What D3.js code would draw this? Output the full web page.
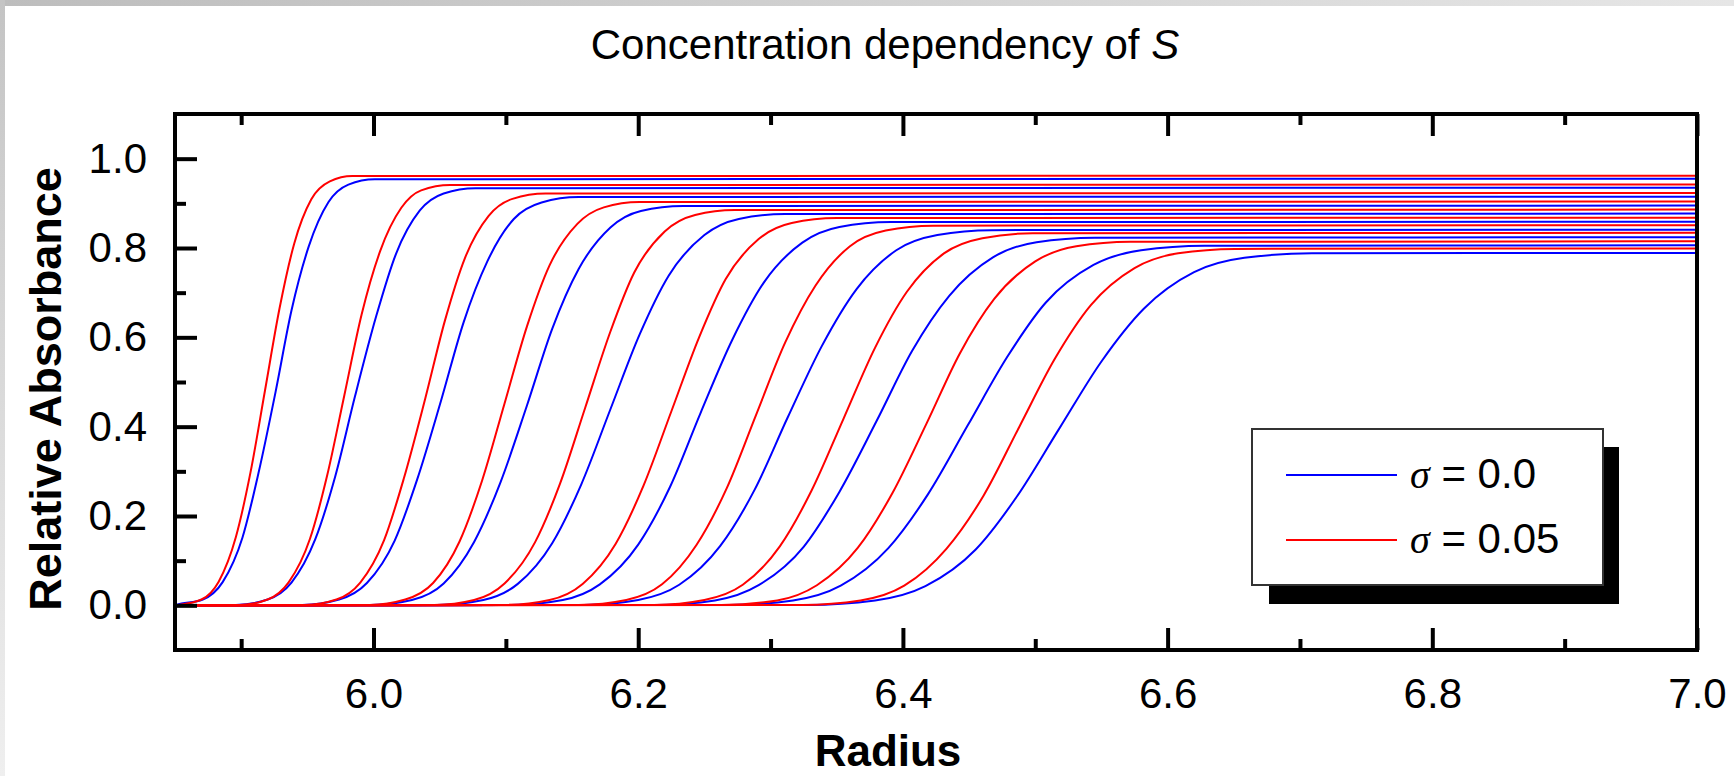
<!DOCTYPE html>
<html>
<head>
<meta charset="utf-8">
<script src="https://d3js.org/d3.v7.min.js"></script>
<style>
  body { margin: 0; background: #fff; }
  svg text { font-family: "Liberation Sans", Arial, sans-serif; fill: #000; }
</style>
</head>
<body>
<script>
// sedimentation boundaries, sigma = 0.0 (blue) and sigma = 0.05 (red)
// each curve: [radius, relative absorbance]
const blueCurves = [
    [[5.85,0],[5.851,0.001],[5.871,0.013],[5.886,0.052],[5.901,0.152],[5.913,0.295],[5.926,0.478],[5.938,0.660],[5.951,0.803],[5.966,0.903],[5.981,0.942],[6.001,0.954],[7.0,0.955]],
    [[5.85,0],[5.896,0.001],[5.920,0.013],[5.938,0.051],[5.956,0.148],[5.971,0.288],[5.986,0.468],[6.002,0.647],[6.017,0.787],[6.035,0.884],[6.053,0.922],[6.077,0.934],[7.0,0.935]],
    [[5.85,0],[5.946,0.001],[5.974,0.013],[5.995,0.050],[6.016,0.145],[6.033,0.282],[6.051,0.458],[6.068,0.633],[6.086,0.770],[6.106,0.865],[6.127,0.902],[6.155,0.914],[7.0,0.915]],
    [[5.85,0],[5.998,0.001],[6.029,0.012],[6.053,0.049],[6.076,0.142],[6.096,0.276],[6.116,0.448],[6.135,0.619],[6.155,0.753],[6.179,0.846],[6.202,0.883],[6.234,0.894],[7.0,0.895]],
    [[5.85,0],[6.048,0.001],[6.083,0.012],[6.109,0.048],[6.135,0.139],[6.157,0.271],[6.179,0.439],[6.201,0.606],[6.223,0.738],[6.250,0.829],[6.276,0.865],[6.311,0.876],[7.0,0.877]],
    [[5.85,0],[6.104,0.001],[6.143,0.012],[6.171,0.047],[6.200,0.136],[6.224,0.265],[6.247,0.430],[6.271,0.594],[6.295,0.723],[6.324,0.812],[6.352,0.847],[6.391,0.858],[7.0,0.859]],
    [[5.85,0],[6.159,0.001],[6.200,0.012],[6.231,0.046],[6.262,0.133],[6.288,0.259],[6.313,0.421],[6.339,0.582],[6.365,0.708],[6.395,0.795],[6.426,0.829],[6.467,0.840],[7.0,0.841]],
    [[5.85,0],[6.214,0.001],[6.258,0.011],[6.291,0.045],[6.325,0.131],[6.352,0.254],[6.380,0.412],[6.407,0.570],[6.435,0.693],[6.468,0.779],[6.501,0.813],[6.545,0.823],[7.0,0.824]],
    [[5.85,0],[6.269,0.001],[6.317,0.011],[6.353,0.044],[6.389,0.128],[6.419,0.249],[6.449,0.403],[6.479,0.557],[6.508,0.678],[6.544,0.762],[6.580,0.795],[6.628,0.805],[7.0,0.806]],
    [[5.85,0],[6.328,0.001],[6.379,0.011],[6.417,0.043],[6.455,0.125],[6.486,0.243],[6.518,0.395],[6.550,0.546],[6.582,0.664],[6.620,0.746],[6.658,0.778],[6.709,0.788],[7.0,0.789]]
];

const redCurves = [
    [[5.85,0],[5.853,0.001],[5.870,0.013],[5.883,0.053],[5.896,0.153],[5.907,0.297],[5.918,0.481],[5.929,0.665],[5.940,0.809],[5.953,0.909],[5.967,0.949],[5.984,0.961],[7.0,0.962]],
    [[5.85,0],[5.899,0.001],[5.920,0.013],[5.936,0.052],[5.952,0.149],[5.965,0.291],[5.978,0.471],[5.991,0.651],[6.005,0.793],[6.021,0.890],[6.036,0.929],[6.058,0.941],[7.0,0.942]],
    [[5.85,0],[5.948,0.001],[5.972,0.013],[5.990,0.051],[6.008,0.146],[6.023,0.285],[6.039,0.462],[6.054,0.638],[6.069,0.777],[6.087,0.872],[6.105,0.910],[6.130,0.922],[7.0,0.923]],
    [[5.85,0],[5.997,0.001],[6.024,0.013],[6.045,0.050],[6.065,0.143],[6.082,0.279],[6.099,0.452],[6.116,0.625],[6.133,0.761],[6.154,0.854],[6.174,0.891],[6.201,0.903],[7.0,0.904]],
    [[5.85,0],[6.046,0.001],[6.076,0.012],[6.099,0.049],[6.122,0.141],[6.141,0.273],[6.160,0.443],[6.179,0.613],[6.197,0.745],[6.220,0.837],[6.243,0.874],[6.273,0.885],[7.0,0.886]],
    [[5.85,0],[6.100,0.001],[6.133,0.012],[6.158,0.048],[6.183,0.138],[6.204,0.268],[6.225,0.434],[6.246,0.600],[6.266,0.730],[6.291,0.820],[6.316,0.856],[6.350,0.867],[7.0,0.868]],
    [[5.85,0],[6.155,0.001],[6.191,0.012],[6.218,0.047],[6.244,0.135],[6.267,0.263],[6.289,0.426],[6.311,0.588],[6.334,0.716],[6.360,0.804],[6.387,0.839],[6.423,0.850],[7.0,0.851]],
    [[5.85,0],[6.212,0.001],[6.250,0.012],[6.279,0.046],[6.307,0.132],[6.331,0.257],[6.355,0.417],[6.379,0.577],[6.403,0.702],[6.431,0.788],[6.460,0.822],[6.498,0.833],[7.0,0.834]],
    [[5.85,0],[6.263,0.001],[6.305,0.011],[6.335,0.045],[6.366,0.129],[6.392,0.251],[6.418,0.408],[6.443,0.564],[6.469,0.686],[6.500,0.770],[6.531,0.804],[6.572,0.814],[7.0,0.815]],
    [[5.85,0],[6.324,0.001],[6.368,0.011],[6.401,0.044],[6.433,0.127],[6.461,0.246],[6.488,0.400],[6.515,0.553],[6.542,0.672],[6.575,0.755],[6.608,0.788],[6.651,0.798],[7.0,0.799]]
];

const xMajorTicks = [6.0, 6.2, 6.4, 6.6, 6.8, 7.0];
const xMinorTicks = [5.9, 6.1, 6.3, 6.5, 6.7, 6.9];
const yMajorTicks = [0.0, 0.2, 0.4, 0.6, 0.8, 1.0];
const yMinorTicks = [0.1, 0.3, 0.5, 0.7, 0.9];
const legendItems = [
    { sigma: "0.0", color: "#0000ff" },
    { sigma: "0.05", color: "#ff0000" }
];

const width = 1734, height = 776;
const plot = { left: 175, right: 1697, top: 114, bottom: 650 };

const svg = d3.select("body").append("svg")
    .attr("width", width)
    .attr("height", height);

// grey frame edges of the original screenshot
const defs = svg.append("defs");
const gTop = defs.append("linearGradient").attr("id", "gTop");
gTop.append("stop").attr("offset", "0%").attr("stop-color", "#bdbdbd");
gTop.append("stop").attr("offset", "100%").attr("stop-color", "#e6e6e6");
const gLeft = defs.append("linearGradient").attr("id", "gLeft")
    .attr("x1", 0).attr("y1", 0).attr("x2", 0).attr("y2", 1);
gLeft.append("stop").attr("offset", "0%").attr("stop-color", "#c4c4c4");
gLeft.append("stop").attr("offset", "100%").attr("stop-color", "#efefef");
defs.append("clipPath").attr("id", "plotClip")
    .append("rect")
    .attr("x", plot.left).attr("y", plot.top)
    .attr("width", plot.right - plot.left).attr("height", plot.bottom - plot.top);

svg.append("rect").attr("width", width).attr("height", height).attr("fill", "#fff");
svg.append("rect").attr("x", 0).attr("y", 0).attr("width", width).attr("height", 6).attr("fill", "url(#gTop)");
svg.append("rect").attr("x", 0).attr("y", 0).attr("width", 5).attr("height", height).attr("fill", "url(#gLeft)");

const x = d3.scaleLinear().domain([5.85, 7.0]).range([plot.left, plot.right]);
const y = d3.scaleLinear().domain([-0.1, 1.1]).range([plot.bottom, plot.top]);

// title
const title = svg.append("text")
    .attr("x", 885).attr("y", 59)
    .attr("text-anchor", "middle")
    .style("font-size", "42px")
    .text("Concentration dependency of ");
title.append("tspan").style("font-style", "italic").text("S");

// curves
const line = d3.line()
    .x(d => x(d[0]))
    .y(d => y(d[1]))
    .curve(d3.curveMonotoneX);

const curves = svg.append("g").attr("clip-path", "url(#plotClip)");
curves.selectAll("path.blue")
    .data(blueCurves)
    .enter()
    .append("path")
    .attr("class", "blue")
    .attr("fill", "none")
    .attr("stroke", "#0000ff")
    .attr("stroke-width", 2)
    .attr("d", line);
curves.selectAll("path.red")
    .data(redCurves)
    .enter()
    .append("path")
    .attr("class", "red")
    .attr("fill", "none")
    .attr("stroke", "#ff0000")
    .attr("stroke-width", 2)
    .attr("d", line);

// axes, ticks pointing inwards
function styleAxis(g) {
    g.select(".domain").remove();
    g.selectAll(".tick line").attr("stroke", "#000").attr("stroke-width", 4);
    g.selectAll(".tick text")
        .style("font-size", "42px")
        .style("font-family", "'Liberation Sans', Arial, sans-serif")
        .attr("fill", "#000");
}

svg.append("g")
    .attr("transform", `translate(0, ${plot.bottom})`)
    .call(d3.axisBottom(x).tickValues(xMajorTicks).tickSize(-22).tickPadding(28).tickFormat(d3.format(".1f")))
    .call(styleAxis);
svg.append("g")
    .attr("transform", `translate(0, ${plot.bottom})`)
    .call(d3.axisBottom(x).tickValues(xMinorTicks).tickSize(-11).tickFormat(""))
    .call(styleAxis);
svg.append("g")
    .attr("transform", `translate(0, ${plot.top})`)
    .call(d3.axisTop(x).tickValues(xMajorTicks).tickSize(-22).tickFormat(""))
    .call(styleAxis);
svg.append("g")
    .attr("transform", `translate(0, ${plot.top})`)
    .call(d3.axisTop(x).tickValues(xMinorTicks).tickSize(-11).tickFormat(""))
    .call(styleAxis);
svg.append("g")
    .attr("transform", `translate(${plot.left}, 0)`)
    .call(d3.axisLeft(y).tickValues(yMajorTicks).tickSize(-22).tickPadding(28).tickFormat(d3.format(".1f")))
    .call(styleAxis);
svg.append("g")
    .attr("transform", `translate(${plot.left}, 0)`)
    .call(d3.axisLeft(y).tickValues(yMinorTicks).tickSize(-11).tickFormat(""))
    .call(styleAxis);

// frame
svg.append("rect")
    .attr("x", plot.left).attr("y", plot.top)
    .attr("width", plot.right - plot.left).attr("height", plot.bottom - plot.top)
    .attr("fill", "none")
    .attr("stroke", "#000")
    .attr("stroke-width", 4);

// axis titles
svg.append("text")
    .attr("x", 888).attr("y", 766)
    .attr("text-anchor", "middle")
    .style("font-size", "44px")
    .style("font-weight", "bold")
    .text("Radius");
svg.append("text")
    .attr("transform", "translate(61, 389) rotate(-90)")
    .attr("text-anchor", "middle")
    .style("font-size", "45px")
    .style("font-weight", "bold")
    .text("Relative Absorbance");

// legend with drop shadow
const legend = svg.append("g");
legend.append("rect")
    .attr("x", 1269).attr("y", 447)
    .attr("width", 350).attr("height", 157)
    .attr("fill", "#000");
legend.append("rect")
    .attr("x", 1252).attr("y", 429)
    .attr("width", 351).attr("height", 156)
    .attr("fill", "#fff")
    .attr("stroke", "#333")
    .attr("stroke-width", 2);

const items = legend.selectAll("g.item")
    .data(legendItems)
    .enter()
    .append("g")
    .attr("class", "item")
    .attr("transform", (d, i) => `translate(0, ${475 + i * 65})`);
items.append("line")
    .attr("x1", 1286).attr("x2", 1397)
    .attr("y1", 0).attr("y2", 0)
    .attr("stroke", d => d.color)
    .attr("stroke-width", 2);
const label = items.append("text")
    .attr("x", 1410).attr("y", 13)
    .style("font-size", "42px");
label.append("tspan")
    .style("font-family", "'Liberation Serif', 'Times New Roman', serif")
    .style("font-style", "italic")
    .style("font-size", "40px")
    .text("σ");
label.append("tspan").text(d => " = " + d.sigma);
</script>
</body>
</html>
